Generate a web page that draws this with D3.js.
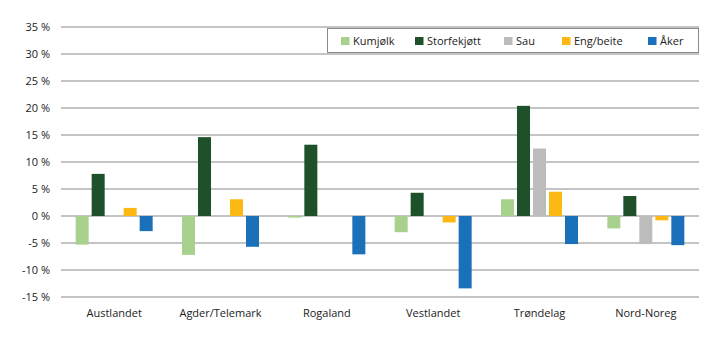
<!DOCTYPE html>
<html><head><meta charset="utf-8">
<script src="https://cdn.jsdelivr.net/npm/d3@7"></script>
<style>body{margin:0;background:#fff}svg text{font-family:"Open Sans","Noto Sans",sans-serif;fill:#222}</style>
</head><body><svg id="c" width="720" height="341"></svg>
<script>
const categories = ["Austlandet","Agder/Telemark","Rogaland","Vestlandet","Trøndelag","Nord-Noreg"];
const seriesNames = ["Kumjølk","Storfekjøtt","Sau","Eng/beite","Åker"];
const kumjolk = [-5.3,-7.2,-0.3,-3.0,3.1,-2.3];
const storfekjott = [7.8,14.6,13.2,4.3,20.4,3.7];
const sau = [0,0,0,0,12.5,-5.2];
const engbeite = [1.5,3.1,0,-1.2,4.5,-0.8];
const aker = [-2.8,-5.7,-7.1,-13.4,-5.2,-5.4];
const yTicks = [-15,-10,-5,0,5,10,15,20,25,30,35];
const colors = ["#a9d18e","#1e5129","#bcbcbc","#fdb913","#1b71b9"];
const seriesData = [kumjolk, storfekjott, sau, engbeite, aker];

const svg = d3.select("#c");
const x = d3.scaleBand().domain(categories).range([61,699]);
const y = d3.scaleLinear().domain([-15,35]).range([297,27]);

svg.append("g").selectAll("line").data(yTicks).join("line")
  .attr("x1",61).attr("x2",699).attr("y1",d=>y(d)).attr("y2",d=>y(d))
  .attr("stroke","#8a8a8a").attr("stroke-width",1.2);
svg.append("g").selectAll("text").data(yTicks).join("text")
  .attr("x",50).attr("y",d=>y(d)+4).attr("text-anchor","end").attr("font-size",11)
  .text(d=>d+" %");

const bw = 13, step = 16;
seriesData.forEach((vals,si)=>{
  svg.append("g").selectAll("rect").data(vals.map((v,i)=>({v,c:categories[i]}))).join("rect")
    .attr("x",d=>x(d.c)+x.bandwidth()/2 + (si-2)*step - bw/2)
    .attr("y",d=>y(Math.max(0,d.v)))
    .attr("width",bw)
    .attr("height",d=>Math.abs(y(d.v)-y(0)))
    .attr("fill",colors[si]);
});

svg.append("g").selectAll("text").data(categories).join("text")
  .attr("x",d=>x(d)+x.bandwidth()/2).attr("y",317).attr("text-anchor","middle").attr("font-size",11)
  .text(d=>d);

const lg = svg.append("g");
lg.append("rect").attr("x",327.5).attr("y",28.5).attr("width",371).attr("height",24)
  .attr("fill","#fff").attr("stroke","#8a8a8a").attr("stroke-width",1);
const lx = [341,415,504,562,648];
seriesNames.forEach((n,i)=>{
  lg.append("rect").attr("x",lx[i]).attr("y",37).attr("width",8.5).attr("height",8).attr("fill",colors[i]);
  lg.append("text").attr("x",lx[i]+12).attr("y",45).attr("font-size",11).text(n);
});
</script></body></html>
